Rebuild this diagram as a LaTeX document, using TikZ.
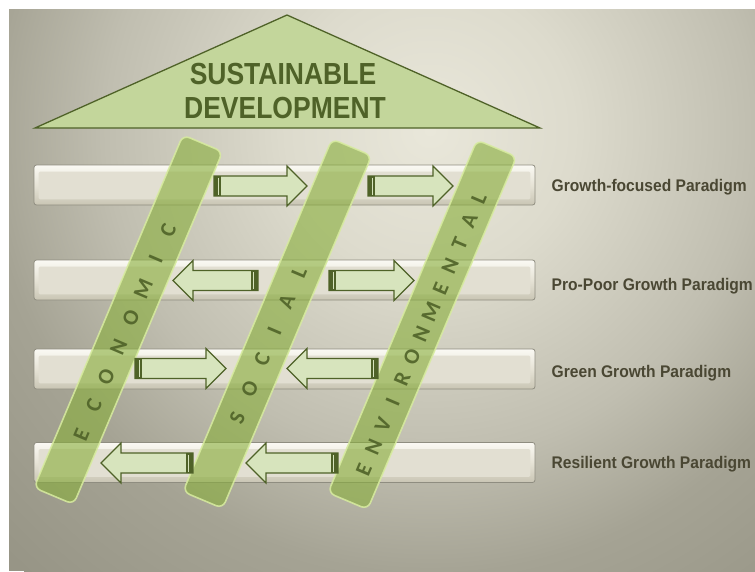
\documentclass[tikz,border=0pt]{standalone}
\usepackage{fontspec}
\setmainfont{Liberation Sans}
\newfontfamily\pillarfont{Carlito}
\usepackage{graphicx}
\usetikzlibrary{calc}

\definecolor{dkgreen}{HTML}{4F6228}
\definecolor{trifill}{HTML}{C3D69B}
\definecolor{arrfill}{HTML}{D7E4BD}
\definecolor{labelcol}{HTML}{4A4733}
\definecolor{pillarfill}{HTML}{88AE3A}
\definecolor{pillarrim}{HTML}{D8ECA0}
\definecolor{barline}{HTML}{8F8D80}
\definecolor{bartop}{HTML}{FAF9F3}
\definecolor{barmid}{HTML}{E6E3D6}
\definecolor{barbot}{HTML}{C9C5B4}
\definecolor{barin}{HTML}{E2DFD2}
\definecolor{bgin}{HTML}{E9E7DA}
\definecolor{bgmid}{HTML}{DDDBCD}
\definecolor{bgmidb}{HTML}{C0BEB0}
\definecolor{bgout}{HTML}{A5A394}
\definecolor{bgedge}{HTML}{979586}

\pgfdeclareradialshading{bgshade}{\pgfpoint{0bp}{0bp}}{color(0bp)=(bgin); color(12bp)=(bgmid); color(27bp)=(bgmidb); color(37bp)=(bgout); color(50bp)=(bgedge)}

\newcommand{\rightblock}[3]{%
  \filldraw[arrowbody] (#1,#3-10) -- (#2-20,#3-10) -- (#2-20,#3-20) -- (#2,#3) -- (#2-20,#3+20) -- (#2-20,#3+10) -- (#1,#3+10) -- cycle;
  \fill[dkgreen] (#1,#3-10) rectangle (#1+7,#3+10);
  \draw[arrfill, line width=0.9pt] (#1+4.3,#3-8.5) -- (#1+4.3,#3+8.5);
}
\newcommand{\leftblock}[3]{%
  \filldraw[arrowbody] (#1,#3-10) -- (#2+20,#3-10) -- (#2+20,#3-20) -- (#2,#3) -- (#2+20,#3+20) -- (#2+20,#3+10) -- (#1,#3+10) -- cycle;
  \fill[dkgreen] (#1,#3-10) rectangle (#1-7,#3+10);
  \draw[arrfill, line width=0.9pt] (#1-4.3,#3-8.5) -- (#1-4.3,#3+8.5);
}
\newcommand{\pillarshape}[2]{%
  \filldraw[pillarbody] (#1,#2) -- ++(39.6,16.7) -- ++(-149,352.7) -- ++(-39.6,-16.7) -- cycle;
}

\begin{document}
\begin{tikzpicture}[x=1pt,y=-1pt,
  barbox/.style={draw=barline, line width=0.8pt, rounded corners=2.5pt, top color=bartop, bottom color=barbot, middle color=barmid, minimum width=501pt, minimum height=40pt, inner sep=0pt},
  barinner/.style={fill=barin, rounded corners=1.5pt},
  arrowbody/.style={fill=arrfill, draw=dkgreen, line width=1.2pt, line join=miter},
  pillarbody/.style={fill=pillarfill, fill opacity=0.6, draw=pillarrim, draw opacity=0.85, line width=1.6pt, rounded corners=7pt},
  pletter/.style={text=dkgreen, font=\pillarfont\bfseries\fontsize{22}{22}\selectfont, rotate=67, inner sep=0pt, text opacity=0.9},
  trititle/.style={text=dkgreen, font=\bfseries\fontsize{26.5}{30}\selectfont, inner sep=0pt},
  rowlabel/.style={text=labelcol, font=\bfseries\fontsize{15.6}{19}\selectfont, inner sep=0pt, anchor=base west}
]
\useasboundingbox (0,0) rectangle (755,571);
\fill[white] (0,0) rectangle (755,571);
\fill[bgedge] (9,9) rectangle (755,571);
\begin{scope}
  \clip (9,9) rectangle (755,571);
  \pgftransformshift{\pgfpointxy{430}{130}}
  \pgftransformscale{11.95}
  \pgflowlevelsynccm
  \pgfuseshading{bgshade}
\end{scope}

% roof
\filldraw[draw=dkgreen, line width=1.3pt, fill=trifill, line join=miter] (287,15) -- (540,128) -- (35,128) -- cycle;
\node[trititle] (sus) at (283,74) {\scalebox{1}[1.15]{SUSTAINABLE}};
\node[trititle] (dev) at (285,108) {\scalebox{1}[1.15]{DEVELOPMENT}};

% bars
\node[barbox] (bar1) at (284.5,185) {};
\node[barbox] (bar2) at (284.5,280) {};
\node[barbox] (bar3) at (284.5,369) {};
\node[barbox] (bar4) at (284.5,462.5) {};
\foreach \b in {bar1,bar2,bar3,bar4}{
  \fill[barinner] ($(\b.north west)+(5,7)$) rectangle ($(\b.south east)+(-5,-6)$);
}

% row labels
\node[rowlabel] (lab1) at (551.5,191.7) {\scalebox{1}[1.08]{Growth-focused Paradigm}};
\node[rowlabel] (lab2) at (551.5,290) {\scalebox{1}[1.08]{Pro-Poor Growth Paradigm}};
\node[rowlabel] (lab3) at (551.5,377) {\scalebox{1}[1.08]{Green Growth Paradigm}};
\node[rowlabel] (lab4) at (551.5,468) {\scalebox{1}[1.08]{Resilient Growth Paradigm}};

% pillars
\pillarshape{183}{135}
\pillarshape{332}{139}
\pillarshape{477}{140}

\foreach \ch [count=\i from 0] in {E,C,O,N,O,M,I,C}
  \node[pletter] (eco\i) at ({81.5+12.37*\i},{435-29.29*\i}) {\ch};
\foreach \ch [count=\i from 0] in {S,O,C,I,A,L}
  \node[pletter] (soc\i) at ({237.3+12.37*\i},{418.4-29.29*\i}) {\ch};
\foreach \ch [count=\i from 0] in {E,N,V,I,R,O,N,M,E,N,T,A,L}
  \node[pletter] (env\i) at ({364+9.57*\i},{470-22.66*\i}) {\ch};

% arrows
\rightblock{214}{307}{186}
\rightblock{368}{453}{186}
\leftblock{258}{173}{280.5}
\rightblock{329}{414}{280.5}
\rightblock{135}{226}{368.5}
\leftblock{378}{287}{368.5}
\leftblock{193}{101}{463}
\leftblock{338}{246}{463}
\end{tikzpicture}
\end{document}
